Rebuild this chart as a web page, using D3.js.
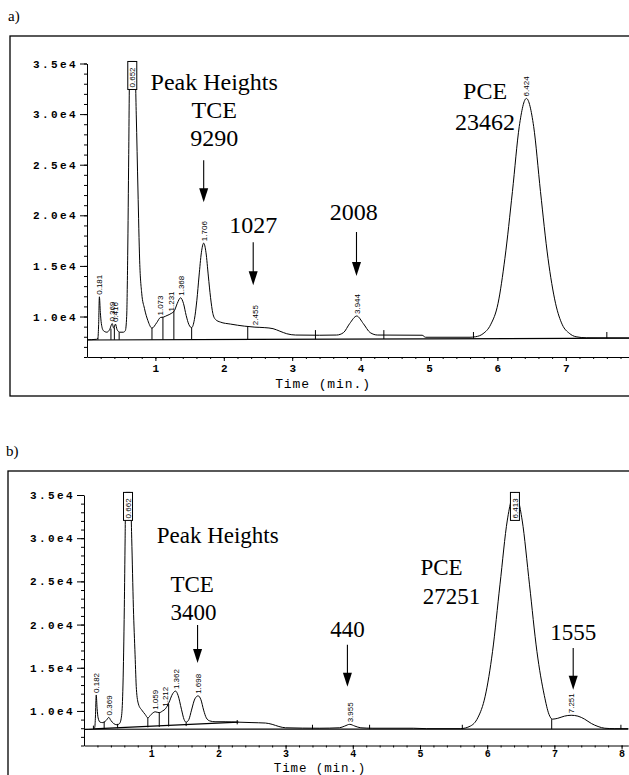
<!DOCTYPE html>
<meta charset="utf-8">
<script src="https://cdn.jsdelivr.net/npm/d3@7"></script>
<style>
  body { margin: 0; background: #fff; }
</style>

<div id="chrom"></div>

<script>

// ---- panel a) ----  [time (min), detector signal]
var traceA = [
  [0.00, 7700], [0.14, 7750], [0.16, 7900], [0.17, 9200], [0.181, 11950], [0.195, 10400],
  [0.21, 9300], [0.24, 8600], [0.29, 8450], [0.33, 8700], [0.369, 9300], [0.39, 8850],
  [0.416, 9250], [0.44, 8700], [0.48, 8450], [0.53, 8450], [0.56, 8600], [0.58, 10000],
  [0.595, 16000], [0.61, 26000], [0.625, 35200], [0.70, 35200], [0.72, 30000], [0.745, 22500],
  [0.77, 15500], [0.80, 12300], [0.84, 10800], [0.89, 9600], [0.95, 8850], [1.02, 9400],
  [1.073, 9900], [1.12, 9950], [1.17, 10100], [1.231, 10300], [1.28, 10600], [1.32, 11300],
  [1.368, 11850], [1.41, 11300], [1.45, 10100], [1.49, 9200], [1.53, 8900], [1.57, 9700],
  [1.606, 11600], [1.638, 14000], [1.672, 16300], [1.706, 17250], [1.74, 16300], [1.774, 14000],
  [1.806, 11900], [1.84, 10300], [1.88, 9700], [1.95, 9450], [2.1, 9250], [2.3, 9050],
  [2.455, 8950], [2.6, 8900], [2.72, 8800], [2.82, 8550], [2.92, 8300], [3.05, 8170],
  [3.4, 8150], [3.65, 8170], [3.75, 8410], [3.84, 9300], [3.944, 10050], [4.04, 9300],
  [4.14, 8410], [4.25, 8170], [4.9, 8150], [4.95, 7950], [5.6, 7950], [5.68, 8000],
  [5.79, 8300], [5.90, 9180], [6.01, 11310], [6.11, 15750], [6.22, 22350], [6.32, 28790],
  [6.424, 31550], [6.53, 28790], [6.63, 22350], [6.74, 15750], [6.85, 11310], [6.95, 9180],
  [7.05, 8350], [7.15, 8000], [7.3, 7900], [7.93, 7880]
];
var baselineA = [[[0, 7680], [7.93, 7860]]];
// integration marks: [time, from, to]
var marksA = [
  [0.16, 7700, 7900], [0.35, 7700, 8800], [0.40, 7700, 8900], [0.47, 7700, 8450],
  [0.95, 7700, 8850], [1.11, 7710, 9950], [1.27, 7710, 10550], [1.53, 7720, 8900],
  [2.35, 7730, 9050], [3.34, 7760, 8660], [4.34, 7780, 8660], [5.65, 7810, 8470], [7.6, 7850, 8470]
];
// retention time labels: [time, apex signal, text]
var peakLabelsA = [
  [0.181, 11950, "0.181"], [0.369, 9300, "0.369"], [0.416, 9250, "0.416"],
  [1.073, 9900, "1.073"], [1.231, 10300, "1.231"], [1.368, 11850, "1.368"],
  [1.706, 17250, "1.706"], [2.455, 8950, "2.455"], [3.944, 10050, "3.944"], [6.424, 31550, "6.424"]
];
var boxLabelsA = [[0.662, 35200, "0.652"]];
// annotations: [time, signal, text]
var notesA = [
  [1.86, 32400, "Peak Heights"], [1.86, 29600, "TCE"], [1.86, 26850, "9290"],
  [2.43, 18250, "1027"], [3.90, 19500, "2008"], [5.82, 31450, "PCE"], [5.82, 28450, "23462"]
];
var arrowsA = [[1.706, 25450, 21300], [2.43, 17350, 13100], [3.94, 18350, 14000]];

// ---- panel b) ----
var traceB = [
  [0.00, 7850], [0.13, 7900], [0.16, 8100], [0.17, 9300], [0.182, 11850], [0.195, 10300],
  [0.21, 9200], [0.24, 8700], [0.28, 8650], [0.33, 8900], [0.369, 9250], [0.40, 8900],
  [0.44, 8550], [0.49, 8400], [0.53, 8550], [0.56, 9500], [0.58, 13000], [0.60, 22000],
  [0.612, 30000], [0.62, 35300], [0.69, 35300], [0.71, 30000], [0.735, 22000], [0.76, 16500],
  [0.78, 12500], [0.81, 10800], [0.86, 10100], [0.91, 9600], [0.95, 9200], [1.00, 9600],
  [1.059, 9900], [1.12, 9800], [1.17, 10000], [1.212, 10250], [1.26, 10900], [1.32, 12000],
  [1.362, 12300], [1.40, 11800], [1.45, 10200], [1.49, 9000], [1.52, 8700], [1.56, 9000],
  [1.60, 10100], [1.65, 11400], [1.698, 11750], [1.74, 11300], [1.78, 10100], [1.82, 9200],
  [1.87, 8850], [1.95, 8750], [2.1, 8750], [2.3, 8700], [2.5, 8650], [2.7, 8600],
  [2.8, 8450], [2.9, 8200], [3.0, 8050], [3.5, 8000], [3.8, 8050], [3.88, 8250],
  [3.955, 8450], [4.03, 8250], [4.12, 8050], [4.3, 8000], [4.9, 8000], [5.1, 7950],
  [5.6, 7950], [5.75, 8250], [5.86, 9200], [5.97, 11700], [6.08, 16900], [6.19, 24600],
  [6.30, 32100], [6.413, 35300], [6.52, 32100], [6.63, 24600], [6.74, 16900], [6.85, 11800],
  [6.92, 9600], [6.97, 9050], [7.05, 9150], [7.15, 9400], [7.25, 9500], [7.35, 9400],
  [7.45, 9050], [7.55, 8550], [7.65, 8200], [7.75, 8000], [7.9, 7950], [8.1, 7950]
];
var baselineB = [[[0, 7880], [8.1, 7900]], [[0.14, 7920], [2.3, 8700]]];
var marksB = [
  [0.14, 7900, 8300], [0.30, 7950, 8800], [0.50, 8000, 8500], [0.95, 8100, 9200],
  [1.12, 8150, 9850], [1.26, 8200, 10800], [1.52, 8250, 8700], [2.28, 8450, 8950],
  [3.40, 7890, 8400], [4.25, 7890, 8400], [5.63, 7890, 8400], [6.96, 7890, 9050], [7.99, 7900, 8400]
];
var peakLabelsB = [
  [0.182, 11850, "0.182"], [0.369, 9250, "0.369"], [1.059, 9900, "1.059"],
  [1.212, 10250, "1.212"], [1.362, 12300, "1.362"], [1.698, 11750, "1.698"],
  [3.955, 8450, "3.955"], [7.25, 9500, "7.251"]
];
var boxLabelsB = [[0.655, 35300, "0.662"], [6.413, 35300, "6.413"]];
var notesB = [
  [1.99, 29450, "Peak Heights"], [1.61, 23750, "TCE"], [1.63, 20500, "3400"],
  [3.92, 18550, "440"], [7.28, 18200, "1555"], [5.32, 25750, "PCE"], [5.47, 22400, "27251"]
];
var arrowsB = [[1.69, 19950, 15550], [3.92, 17650, 12800], [7.28, 17300, 12450]];

var yMajor = [10000, 15000, 20000, 25000, 30000, 35000];

var svg = d3.select("#chrom")
  .append("svg")
    .attr("width", 629)
    .attr("height", 775);

function drawPanel(p) {
  var g = svg.append("g");

  g.append("rect")
    .attr("x", p.frame[0]).attr("y", p.frame[1])
    .attr("width", 700).attr("height", p.frame[2])
    .style("fill", "none").style("stroke", "#000").style("stroke-width", 1.3);

  g.append("text")
    .attr("x", p.frame[0] - 2).attr("y", p.frame[1] - 15)
    .style("font-family", "Liberation Serif").style("font-size", "15px")
    .text(p.letter);

  var x = d3.scaleLinear().domain([0, p.tMax]).range([p.left, p.right]);
  var y = d3.scaleLinear().domain([6000, 35000]).range([p.bottom, p.top]);

  // y axis
  var ya = g.append("g")
    .attr("transform", "translate(" + p.left + ",0)")
    .call(d3.axisLeft(y).tickValues(yMajor).tickSize(7).tickSizeOuter(0)
      .tickFormat(function(d) { return (d / 1e4).toFixed(1) + "e4"; }));
  ya.selectAll("text")
    .attr("x", -9)
    .style("font-family", "Liberation Mono").style("font-size", "11px")
    .style("font-weight", "bold").style("letter-spacing", "2.4px");
  g.append("g")
    .attr("transform", "translate(" + p.left + ",0)")
    .call(d3.axisLeft(y).tickValues(d3.range(6000, 35001, 1000)).tickSize(3).tickFormat(""))
    .select(".domain").remove();

  // x axis
  var xa = g.append("g")
    .attr("transform", "translate(0," + p.bottom + ")")
    .call(d3.axisBottom(x).tickValues(p.xTicks).tickSize(4).tickSizeOuter(0).tickFormat(d3.format("d")));
  xa.selectAll("text")
    .attr("y", p.tickDy)
    .style("font-family", "Liberation Mono").style("font-size", p.tickSize).style("font-weight", "bold");
  g.append("g")
    .attr("transform", "translate(0," + p.bottom + ")")
    .call(d3.axisBottom(x).tickValues(d3.range(0.2, p.tMax, 0.2)).tickSize(2).tickFormat(""))
    .select(".domain").remove();

  g.append("text")
    .attr("x", p.titleX).attr("y", p.bottom + p.titleDy)
    .style("text-anchor", "middle")
    .style("font-family", "Liberation Mono").style("font-size", p.titleSize)
    .style("letter-spacing", "0.9px")
    .text("Time (min.)");

  var line = d3.line()
    .x(function(d) { return x(d[0]); })
    .y(function(d) { return y(d[1]); });

  // integration baselines
  g.selectAll("path.base")
    .data(p.baselines)
    .enter()
    .append("path")
    .attr("d", line)
    .style("fill", "none").style("stroke", "#000").style("stroke-width", 1.2);

  g.selectAll("line.mark")
    .data(p.marks)
    .enter()
    .append("line")
    .attr("x1", function(d) { return x(d[0]); })
    .attr("x2", function(d) { return x(d[0]); })
    .attr("y1", function(d) { return y(d[1]); })
    .attr("y2", function(d) { return y(d[2]); })
    .style("stroke", "#000").style("stroke-width", 1);

  // chromatogram
  g.append("path")
    .datum(p.trace)
    .attr("d", line.curve(d3.curveMonotoneX))
    .style("fill", "none").style("stroke", "#000").style("stroke-width", 1);

  // rotated retention times
  g.selectAll("text.rt")
    .data(p.peakLabels)
    .enter()
    .append("text")
    .attr("transform", function(d) {
      return "translate(" + (x(d[0]) + 3) + "," + (y(d[1]) - 2) + ") rotate(-90)";
    })
    .style("font-family", "Liberation Sans").style("font-size", "8px")
    .text(function(d) { return d[2]; });

  var boxes = g.selectAll("g.box")
    .data(p.boxLabels)
    .enter()
    .append("g")
    .attr("transform", function(d) { return "translate(" + x(d[0]) + "," + y(d[1]) + ")"; });
  boxes.append("rect")
    .attr("x", -4.5).attr("y", 0).attr("width", 9).attr("height", 28)
    .style("fill", "#fff").style("stroke", "#000").style("stroke-width", 1);
  boxes.append("text")
    .attr("transform", "translate(3,26) rotate(-90)")
    .style("font-family", "Liberation Sans").style("font-size", "8px")
    .text(function(d) { return d[2]; });

  // annotations
  g.selectAll("text.note")
    .data(p.notes)
    .enter()
    .append("text")
    .attr("x", function(d) { return x(d[0]); })
    .attr("y", function(d) { return y(d[1]); })
    .style("text-anchor", "middle")
    .style("font-family", "Liberation Serif").style("font-size", p.noteSize)
    .text(function(d) { return d[2]; });

  var arrows = g.selectAll("g.arrow")
    .data(p.arrows)
    .enter()
    .append("g");
  arrows.append("line")
    .attr("x1", function(d) { return x(d[0]); })
    .attr("x2", function(d) { return x(d[0]); })
    .attr("y1", function(d) { return y(d[1]); })
    .attr("y2", function(d) { return y(d[2]) - 12; })
    .style("stroke", "#000").style("stroke-width", 1.1);
  arrows.append("path")
    .attr("d", function(d) {
      var ax = x(d[0]), ay = y(d[2]);
      return "M" + (ax - 4.5) + "," + (ay - 14) + "L" + (ax + 4.5) + "," + (ay - 14) + "L" + ax + "," + ay + "Z";
    })
    .style("fill", "#000");
}

drawPanel({
  letter: "a)", frame: [10, 36, 360],
  left: 87, right: 629.4, tMax: 7.93, top: 63.5, bottom: 357,
  xTicks: [1, 2, 3, 4, 5, 6, 7], tickDy: 7, tickSize: "11px",
  titleX: 323, titleDy: 31, titleSize: "13px",
  trace: traceA, baselines: baselineA, marks: marksA,
  peakLabels: peakLabelsA, boxLabels: boxLabelsA,
  notes: notesA, arrows: arrowsA, noteSize: "24px"
});

drawPanel({
  letter: "b)", frame: [8, 471, 400],
  left: 84, right: 628.3, tMax: 8.1, top: 495, bottom: 745.5,
  xTicks: [1, 2, 3, 4, 5, 6, 7, 8], tickDy: 4, tickSize: "10px",
  titleX: 320, titleDy: 26, titleSize: "12.5px",
  trace: traceB, baselines: baselineB, marks: marksB,
  peakLabels: peakLabelsB, boxLabels: boxLabelsB,
  notes: notesB, arrows: arrowsB, noteSize: "23px"
});

</script>
